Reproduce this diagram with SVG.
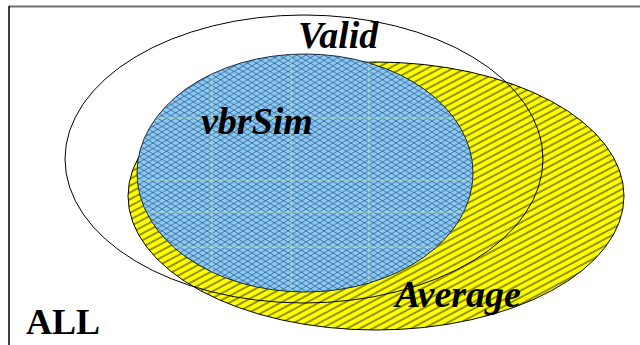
<svg xmlns="http://www.w3.org/2000/svg" width="640" height="345" viewBox="0 0 640 345">
  <style>
    text { font-family: "Liberation Serif", "Times New Roman", Times, serif; font-weight: bold; fill: #000; }
    .it { font-style: italic; font-size: 38px; }
    .up { font-size: 36px; }
    .outline { fill: none; stroke: #000; stroke-width: 1; }
  </style>
  <defs>
    <pattern id="hatch" patternUnits="userSpaceOnUse" width="10" height="6" patternTransform="rotate(-28)">
      <rect x="0" y="0" width="10" height="6" fill="#ffff00"/>
      <line x1="0" y1="3" x2="10" y2="3" stroke="#000" stroke-width="0.85"/>
    </pattern>
    <pattern id="cross" patternUnits="userSpaceOnUse" width="9" height="5.5">
      <rect x="0" y="0" width="9" height="5.5" fill="#88ccfc"/>
      <path d="M0,0 L9,5.5 M0,5.5 L9,0" stroke="#34506c" stroke-width="0.75" fill="none"/>
    </pattern>
    <clipPath id="blueClip">
      <ellipse cx="305" cy="173" rx="168" ry="119"/>
    </clipPath>
  </defs>

  <g id="frame">
    <line x1="9" y1="6.5" x2="640" y2="6.5" stroke="#707070" stroke-width="2"/>
    <line x1="9" y1="6" x2="9" y2="345" stroke="#000" stroke-width="1.5"/>
  </g>

  <g id="average">
    <ellipse cx="376" cy="196" rx="248" ry="134" fill="url(#hatch)" stroke="#000" stroke-width="1"/>
  </g>

  <g id="valid">
    <ellipse class="outline" cx="304" cy="159" rx="239" ry="144"/>
  </g>

  <g id="vbrSim">
    <ellipse cx="305" cy="173" rx="168" ry="119" fill="url(#cross)" stroke="#1a2a3a" stroke-width="1"/>
    <g clip-path="url(#blueClip)" stroke="#c8e8b0" stroke-width="1" opacity="0.6">
      <line x1="212" y1="40" x2="212" y2="300"/>
      <line x1="291" y1="40" x2="291" y2="300"/>
      <line x1="369" y1="40" x2="369" y2="300"/>
      <line x1="130" y1="118" x2="480" y2="118"/>
      <line x1="130" y1="180" x2="480" y2="180"/>
      <line x1="130" y1="212" x2="480" y2="212"/>
      <line x1="130" y1="247" x2="480" y2="247"/>
    </g>
  </g>

  <g id="labels">
    <text class="it" x="298" y="48" font-family="Liberation Serif, serif">Valid</text>
    <text class="it" x="201" y="134" font-family="Liberation Serif, serif">vbrSim</text>
    <text class="it" x="395" y="307" font-family="Liberation Serif, serif">Average</text>
    <text class="up" x="26" y="334" font-family="Liberation Serif, serif">ALL</text>
  </g>
</svg>
